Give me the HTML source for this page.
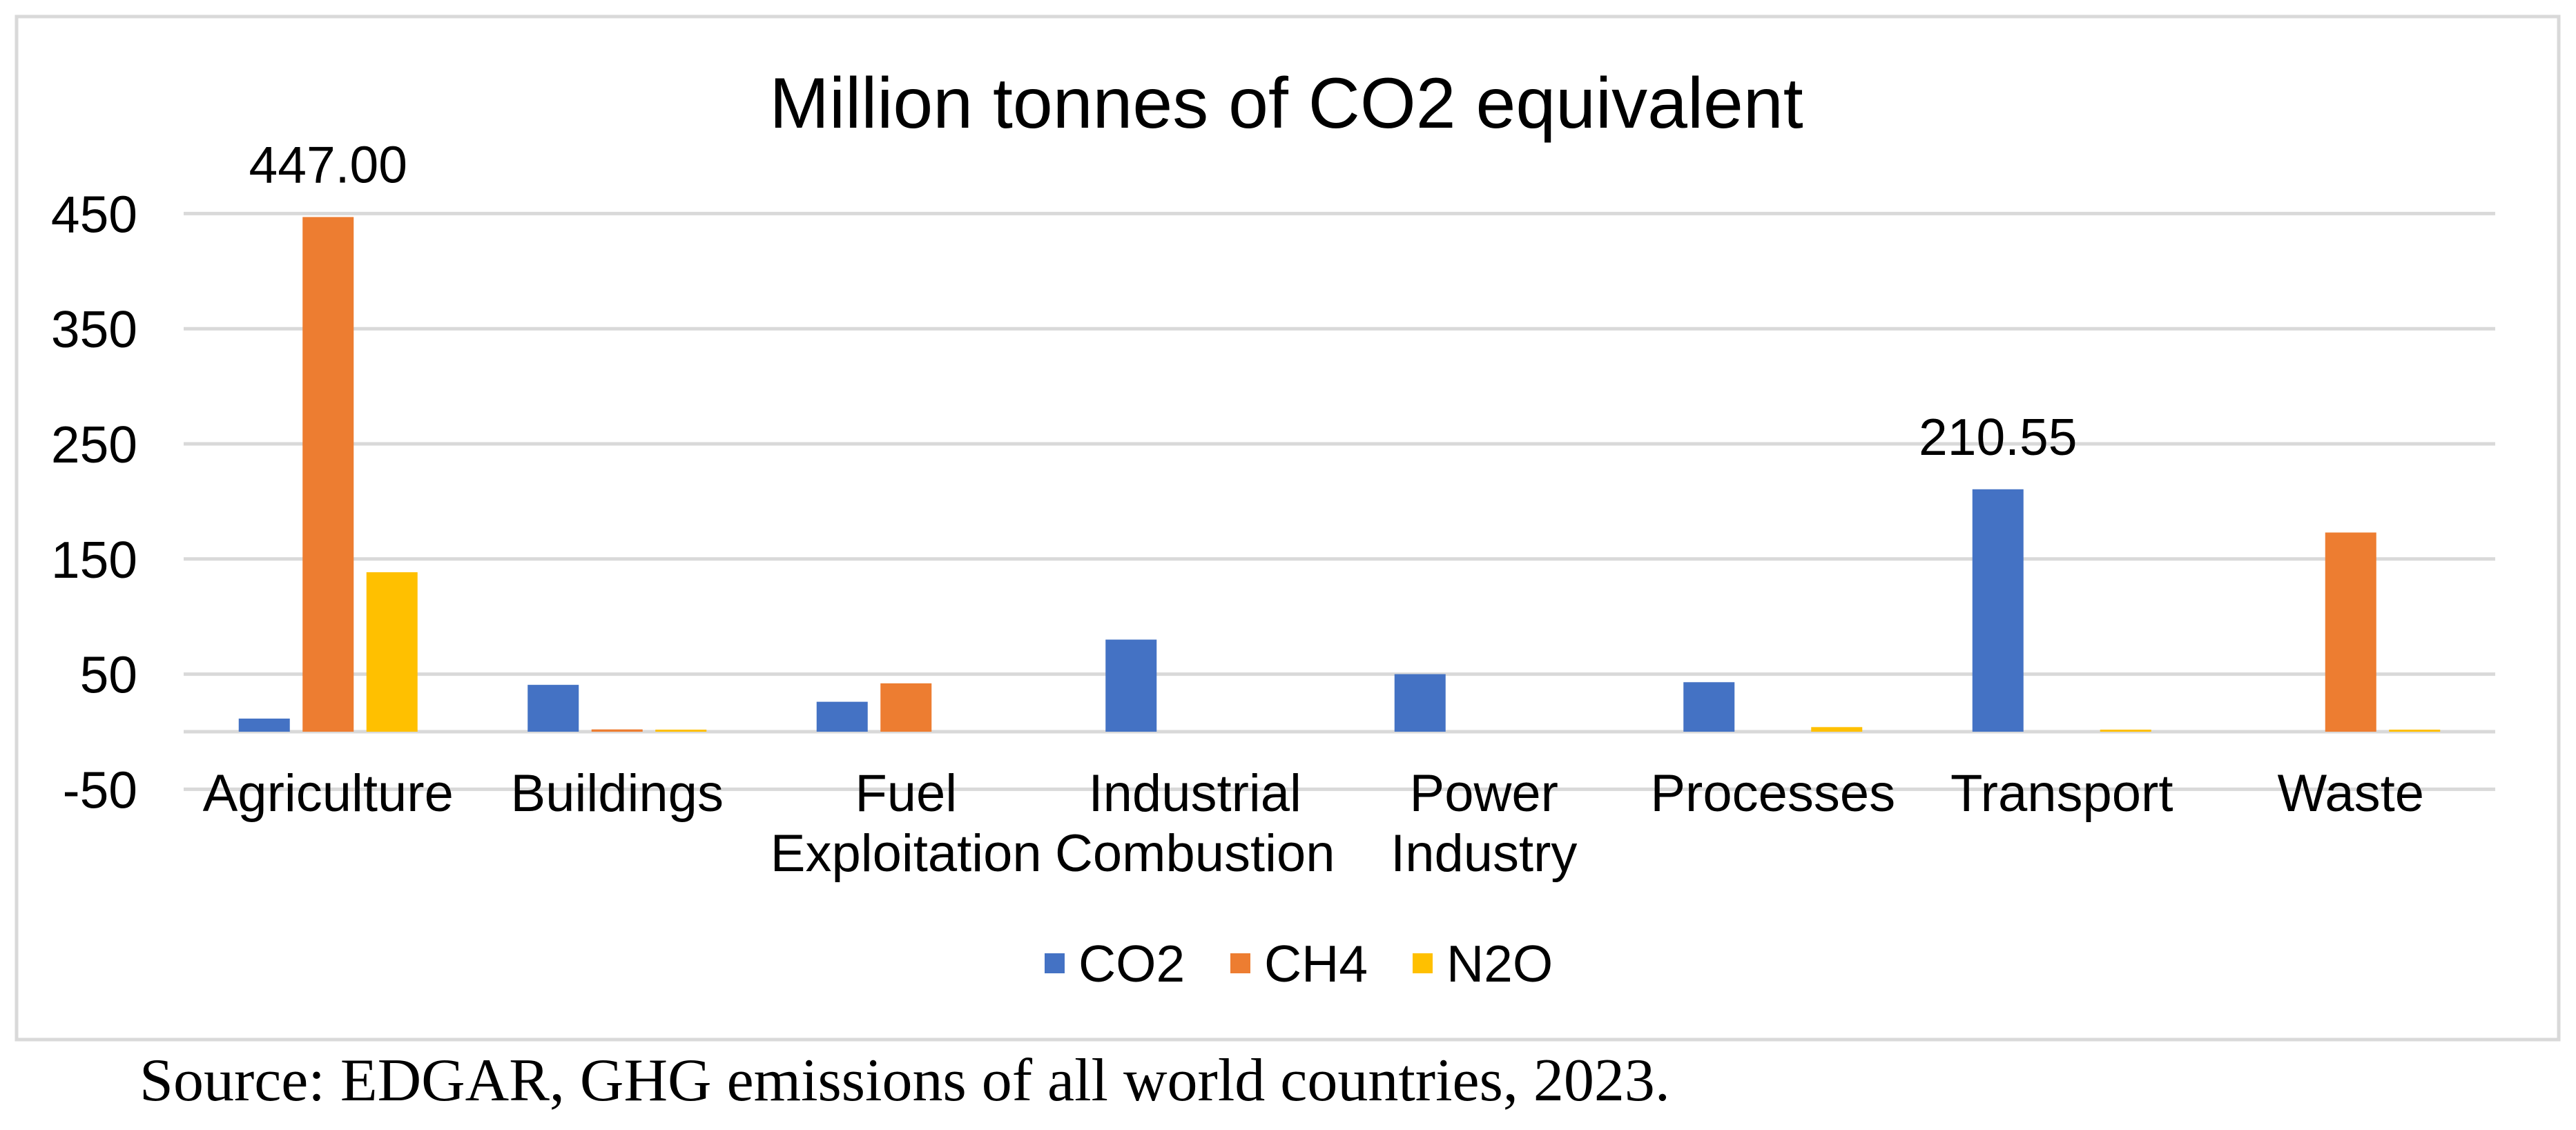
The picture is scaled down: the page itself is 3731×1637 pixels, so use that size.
<!DOCTYPE html>
<html><head><meta charset="utf-8"><style>
html,body{margin:0;padding:0;background:#fff;}
svg{display:block;font-family:"Liberation Sans",Arial,sans-serif;}
</style></head><body>
<svg id="chart" width="3731" height="1637" viewBox="0 0 3731 1637" xmlns="http://www.w3.org/2000/svg">
<rect x="24" y="24" width="3682" height="1482" fill="#fff" stroke="#d9d9d9" stroke-width="5"/>
<text x="1863" y="185" font-size="104" text-anchor="middle">Million tonnes of CO2 equivalent</text>
<g id="grid"></g><g id="bars"></g><g id="labels"></g>
<text x="202" y="1594" font-family="'Liberation Serif',serif" font-size="88">Source: EDGAR, GHG emissions of all world countries, 2023.</text>
</svg>
<script>
const categories=[["Agriculture"],["Buildings"],["Fuel","Exploitation"],["Industrial","Combustion"],["Power","Industry"],["Processes"],["Transport"],["Waste"]];
const seriesNames=["CO2","CH4","N2O"];
const co2=[11.4,40.7,26,80,50,43,210.55,0];
const ch4=[447,2,42,0,0,0,0,173];
const n2o=[138.5,1,0,0,0,4,1,1];
const yTicks=[450,350,250,150,50,-50];
const colors=["#4472c4","#ed7d31","#ffc000"];
const NS="http://www.w3.org/2000/svg";
const L=266,R=3614,y0=1060,k=1.668;
const y=v=>y0-v*k;
const bw=(R-L)/categories.length;
const cx=i=>L+bw*(i+0.5);
function mk(t,a,p){const e=document.createElementNS(NS,t);for(const q in a)e.setAttribute(q,a[q]);(p||document.getElementById('chart')).appendChild(e);return e;}
const grid=document.getElementById('grid'),bars=document.getElementById('bars'),labs=document.getElementById('labels');
yTicks.forEach(v=>{
 const g=mk('line',{x1:L,x2:R,y1:y(v),y2:y(v),stroke:'#d9d9d9','stroke-width':5},grid);
 
 
 const t=mk('text',{x:199,y:y(v)+27,'font-size':75,'text-anchor':'end'},labs);t.textContent=v;
 
 
});
const ax=mk('line',{x1:L,x2:R,y1:y(0),y2:y(0),stroke:'#d9d9d9','stroke-width':5},grid);


[co2,ch4,n2o].forEach((s,si)=>{
 s.forEach((v,i)=>{
  const x=cx(i)+(si-1)*92.5-37;
  const h=Math.max(v*k,v>0?3:0);
  if(h<=0)return;
  const r=mk('rect',{x:x,y:y0-h,width:74,height:h,fill:colors[si]},bars);
  
  
 });
});
categories.forEach((c,i)=>{
 c.forEach((ln,j)=>{
  const t=mk('text',{x:cx(i),y:1175+j*87,'font-size':76,'text-anchor':'middle'},labs);t.textContent=ln;
  
  
 });
});
[[0,1,"447.00"],[6,0,"210.55"]].forEach(([i,si,txt])=>{
 const v=[co2,ch4,n2o][si][i];
 const t=mk('text',{x:cx(i)+(si-1)*92.5,y:y(v)-50,'font-size':75,'text-anchor':'middle'},labs);t.textContent=txt;
 
 
});
const lx=[1513,1782,2046];
seriesNames.forEach((n,si)=>{
 const r=mk('rect',{x:lx[si],y:1381,width:29,height:29,fill:colors[si]},labs);
 
 
 const t=mk('text',{x:lx[si]+49,y:1422,'font-size':75},labs);t.textContent=n;
 
 
});
</script>
</body></html>
